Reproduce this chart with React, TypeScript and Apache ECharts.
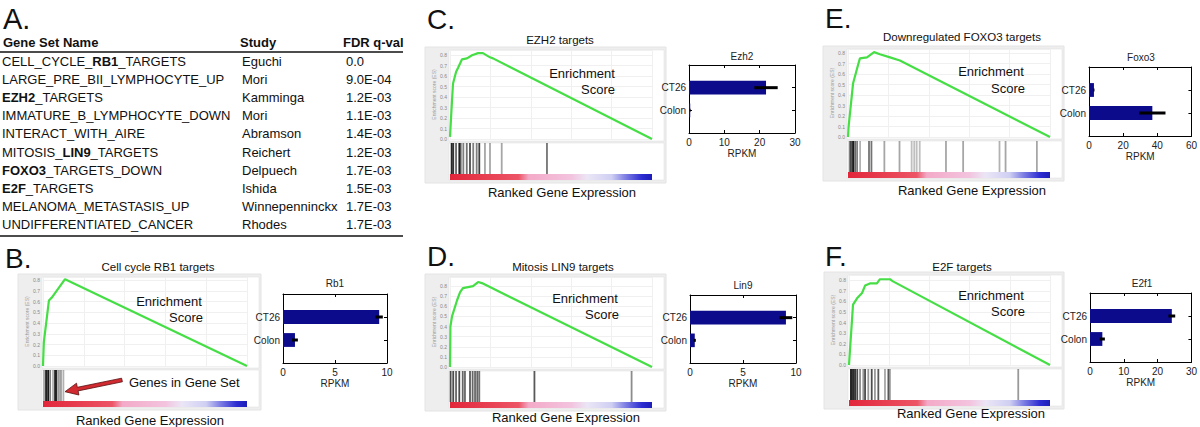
import React, { useEffect, useRef } from "react";
import * as echarts from "echarts";

// ---------- Panel A table ----------
const tableHeaders = ["Gene Set Name", "Study", "FDR q-val"];
const geneSetNames = [
  "CELL_CYCLE_RB1_TARGETS",
  "LARGE_PRE_BII_LYMPHOCYTE_UP",
  "EZH2_TARGETS",
  "IMMATURE_B_LYMPHOCYTE_DOWN",
  "INTERACT_WITH_AIRE",
  "MITOSIS_LIN9_TARGETS",
  "FOXO3_TARGETS_DOWN",
  "E2F_TARGETS",
  "MELANOMA_METASTASIS_UP",
  "UNDIFFERENTIATED_CANCER",
];
const boldParts = ["RB1", "", "EZH2", "", "", "LIN9", "FOXO3", "E2F", "", ""];
const studies = ["Eguchi", "Mori", "Kamminga", "Mori", "Abramson", "Reichert", "Delpuech", "Ishida", "Winnepenninckx", "Rhodes"];
const fdrValues = ["0.0", "9.0E-04", "1.2E-03", "1.1E-03", "1.4E-03", "1.2E-03", "1.7E-03", "1.5E-03", "1.7E-03", "1.7E-03"];

// ---------- GSEA running enrichment scores ([rank %, ES]) ----------
const esB = [[0, 0], [0.4, 0.22], [2.9, 0.61], [4.4, 0.64], [10.8, 0.81], [100, 0]];
const esC = [[0, 0.02], [1.0, 0.37], [1.5, 0.53], [3.0, 0.64], [4.0, 0.68], [5.9, 0.76], [8.4, 0.77], [10.9, 0.8], [13.9, 0.82], [16.3, 0.82], [19.8, 0.78], [21.3, 0.77], [100, 0]];
const esD = [[0, 0], [0.2, 0.4], [1.0, 0.5], [3.5, 0.66], [5.0, 0.74], [6.4, 0.78], [8.9, 0.79], [11.4, 0.8], [13.9, 0.84], [15.8, 0.83], [100, 0]];
const esE = [[0, 0], [0.3, 0.1], [2.5, 0.51], [5.0, 0.69], [5.9, 0.75], [9.4, 0.76], [12.9, 0.81], [15.8, 0.79], [20.8, 0.76], [25.7, 0.73], [100, 0]];
const esF = [[0, 0], [2.0, 0.57], [4.0, 0.63], [6.5, 0.68], [8.0, 0.75], [10.4, 0.77], [13.9, 0.77], [15.4, 0.81], [20.4, 0.81], [21.9, 0.79], [100, 0]];

// ---------- Gene set hits ([rank %, darkness]) ----------
const hitsB = [[0.5, 0.35], [1.5, 0.9], [2.5, 0.9], [3.5, 0.5], [4.9, 0.3], [5.9, 0.85], [6.6, 0.85], [7.8, 0.4], [8.8, 0.4], [10.0, 0.3]];
const hitsC = [[0.8, 0.85], [1.6, 0.8], [3.0, 0.6], [4.6, 0.85], [5.3, 0.6], [6.6, 0.5], [8.3, 0.55], [9.9, 0.7], [11.5, 0.5], [13.2, 0.5], [14.5, 0.75], [17.3, 0.35], [19.8, 0.35], [25.6, 0.35], [48.0, 0.55]];
const hitsD = [[0.3, 0.7], [1.6, 0.7], [3.0, 0.6], [4.6, 0.7], [6.3, 0.6], [7.4, 0.6], [9.9, 0.65], [11.2, 0.6], [12.4, 0.6], [13.5, 0.6], [14.5, 0.55], [41.8, 0.65], [89.9, 0.45]];
const hitsE = [[0.8, 0.5], [1.5, 0.7], [2.5, 0.95], [3.5, 0.6], [4.5, 0.5], [6.0, 0.3], [10.4, 0.55], [11.6, 0.55], [18.0, 0.35], [25.5, 0.35], [31.5, 0.25], [32.8, 0.25], [34.0, 0.25], [35.5, 0.25], [48.5, 0.35], [57.0, 0.35], [75.0, 0.3], [78.0, 0.35], [93.5, 0.35]];
const hitsF = [[1.0, 0.95], [2.0, 0.9], [3.0, 0.85], [4.1, 0.7], [5.5, 0.45], [7.1, 0.4], [8.0, 0.7], [9.6, 0.4], [11.3, 0.7], [12.9, 0.4], [14.6, 0.65], [17.9, 0.35], [19.6, 0.65], [20.4, 0.35], [84.2, 0.4]];

// ---------- RPKM bar charts ----------
const barCategories = ["CT26", "Colon"];
const rb1Values = [9.25, 1.15];
const rb1Errors = [0.35, 0.28];
const ezh2Values = [21.8, 0.35];
const ezh2Errors = [3.3, 0.1];
const lin9Values = [9.05, 0.45];
const lin9Errors = [0.6, 0.1];
const foxo3Values = [2.9, 37.1];
const foxo3Errors = [0.3, 7.7];
const e2f1Values = [24.2, 3.65];
const e2f1Errors = [1.0, 0.75];

const FONT = "'Liberation Sans', Arial, Helvetica, sans-serif";

const gseaPanels = [
  { letter: "B.", lx: 5, ly: 258, title: "Cell cycle RB1 targets", tx: 158, ty: 267, xs: 43, xe: 247, top: 277, y0: 366, ymax: 0.83, es: esB, hits: hitsB, enr: [169, 301], score: [203, 317], ranked: [150, 420] },
  { letter: "C.", lx: 427, ly: 19, title: "EZH2 targets", tx: 560, ty: 40, xs: 450, xe: 652, top: 50, y0: 139, ymax: 0.85, es: esC, hits: hitsC, enr: [582, 73], score: [615, 89], ranked: [562, 192] },
  { letter: "D.", lx: 427, ly: 256, title: "Mitosis LIN9 targets", tx: 563, ty: 267, xs: 450, xe: 652, top: 277, y0: 367, ymax: 0.89, es: esD, hits: hitsD, enr: [585, 298], score: [619, 314], ranked: [566, 417] },
  { letter: "E.", lx: 825, ly: 18, title: "Downregulated FOXO3 targets", tx: 962, ty: 37, xs: 848, xe: 1050, top: 49, y0: 137, ymax: 0.84, es: esE, hits: hitsE, enr: [991, 71], score: [1025, 88], ranked: [972, 190] },
  { letter: "F.", lx: 825, ly: 256, title: "E2F targets", tx: 962, ty: 267, xs: 849, xe: 1050, top: 275, y0: 365, ymax: 0.85, es: esF, hits: hitsF, enr: [991, 295], score: [1025, 311], ranked: [971, 413] },
];

const barPanels = [
  { title: "Rb1", x0: 283, x1: 387, y0: 294, y1: 363, ty: 283, max: 10, step: 5, values: rb1Values, errors: rb1Errors },
  { title: "Ezh2", x0: 689, x1: 795, y0: 65, y1: 133, ty: 56, max: 30, step: 10, values: ezh2Values, errors: ezh2Errors },
  { title: "Lin9", x0: 690, x1: 796, y0: 295, y1: 363, ty: 285, max: 10, step: 5, values: lin9Values, errors: lin9Errors },
  { title: "Foxo3", x0: 1089, x1: 1193, y0: 67, y1: 136, ty: 57, max: 60, step: 20, values: foxo3Values, errors: foxo3Errors },
  { title: "E2f1", x0: 1090, x1: 1194, y0: 293, y1: 362, ty: 283, max: 30, step: 10, values: e2f1Values, errors: e2f1Errors },
];

function txt(text: string, x: number, y: number, size: number, opts: any = {}) {
  return {
    type: "text",
    x,
    y,
    z: 100,
    style: {
      text,
      fontSize: size,
      fontFamily: FONT,
      fill: opts.fill || "#111",
      fontWeight: opts.bold ? "bold" : "normal",
      align: opts.align || "left",
      verticalAlign: "middle",
      rich: opts.rich,
    },
  };
}

function buildOption() {
  const grid: any[] = [];
  const xAxis: any[] = [];
  const yAxis: any[] = [];
  const series: any[] = [];
  const graphic: any[] = [];

  // ---- Panel A ----
  graphic.push(txt("A.", 3, 19, 29));
  graphic.push(txt(tableHeaders[0], 3, 42, 13, { bold: true }));
  graphic.push(txt(tableHeaders[1], 240, 42, 13, { bold: true }));
  graphic.push(txt(tableHeaders[2], 343, 42, 13, { bold: true }));
  graphic.push({ type: "line", z: 100, shape: { x1: 0, y1: 52, x2: 403, y2: 52 }, style: { stroke: "#111", lineWidth: 1.6 } });
  graphic.push({ type: "line", z: 100, shape: { x1: 0, y1: 236, x2: 403, y2: 236 }, style: { stroke: "#111", lineWidth: 1.6 } });
  geneSetNames.forEach((name, i) => {
    const y = 61.5 + i * 18.1;
    const bp = boldParts[i];
    let t = name;
    if (bp) {
      const idx = name.indexOf(bp);
      const pre = name.slice(0, idx);
      const post = name.slice(idx + bp.length);
      t = (pre ? "{n|" + pre + "}" : "") + "{b|" + bp + "}" + (post ? "{n|" + post + "}" : "");
    }
    graphic.push(
      txt(t, 2, y, 13, {
        rich: bp
          ? {
              n: { fontSize: 13, fontFamily: FONT, fill: "#111" },
              b: { fontSize: 13, fontFamily: FONT, fill: "#111", fontWeight: "bold" },
            }
          : undefined,
      })
    );
    graphic.push(txt(studies[i], 242, y, 13));
    graphic.push(txt(fdrValues[i], 346, y, 13));
  });

  // ---- GSEA panels ----
  const gradient = new echarts.graphic.LinearGradient(0, 0, 1, 0, [
    { offset: 0, color: "#e2263a" },
    { offset: 0.34, color: "#ec5566" },
    { offset: 0.39, color: "#f3aac8" },
    { offset: 0.6, color: "#f3c3de" },
    { offset: 0.68, color: "#ebe6f6" },
    { offset: 0.8, color: "#cfcff3" },
    { offset: 0.87, color: "#7d7de4" },
    { offset: 0.95, color: "#2c2cd2" },
    { offset: 1, color: "#1d1db8" },
  ]);

  gseaPanels.forEach((p, i) => {
    // backgrounds
    graphic.push({ type: "rect", z: -10, shape: { x: p.xs - 25, y: p.top - 3, width: p.xe + 14 - (p.xs - 25), height: p.y0 + 44 - (p.top - 3) }, style: { fill: "#eeeeee", stroke: "#e4e4e4", lineWidth: 1 } });
    graphic.push({ type: "rect", z: -9, shape: { x: p.xs - 1, y: p.top, width: p.xe + 12 - (p.xs - 1), height: p.y0 + 2 - p.top }, style: { fill: "#ffffff", stroke: "#dcdcdc", lineWidth: 0.5 } });
    graphic.push({ type: "rect", z: -9, shape: { x: p.xs - 1, y: p.y0 + 4, width: p.xe + 12 - (p.xs - 1), height: 37 }, style: { fill: "#ffffff", stroke: "#dcdcdc", lineWidth: 0.5 } });
    graphic.push({ type: "rect", z: 50, shape: { x: p.xs, y: p.y0 + 35, width: p.xe - p.xs, height: 6 }, style: { fill: gradient } });
    // texts
    graphic.push(txt(p.letter, p.lx, p.ly, 28));
    graphic.push(txt(p.title, p.tx, p.ty, 11.5, { align: "center" }));
    graphic.push(txt("Enrichment", p.enr[0], p.enr[1], 13, { align: "center" }));
    graphic.push(txt("Score", p.score[0], p.score[1], 13, { align: "right" }));
    graphic.push(txt("Ranked Gene Expression", p.ranked[0], p.ranked[1], 13, { align: "center" }));

    grid.push({ left: p.xs, top: p.top, width: p.xe - p.xs, height: p.y0 - p.top });
    xAxis.push({
      gridIndex: i, type: "value", min: 0, max: 100, interval: 20,
      axisLine: { show: false }, axisTick: { show: false }, axisLabel: { show: false },
      splitLine: { show: true, lineStyle: { color: "#f0f0f0", width: 1 } },
    });
    yAxis.push({
      gridIndex: i, type: "value", min: 0, max: p.ymax, interval: 0.1,
      axisLine: { show: false }, axisTick: { show: false },
      axisLabel: {
        fontSize: 5, color: "#888", margin: 3, fontFamily: FONT,
        formatter: (v: number) => (v <= 0.8001 && Math.abs(v * 10 - Math.round(v * 10)) < 1e-6 ? v.toFixed(1) : ""),
      },
      splitLine: { show: true, lineStyle: { color: "#f0f0f0", width: 1 } },
      name: "Enrichment score (ES)", nameLocation: "middle", nameGap: 14,
      nameTextStyle: { fontSize: 5, color: "#999", fontFamily: FONT },
    });
    series.push({
      type: "line", xAxisIndex: i, yAxisIndex: i, data: p.es, symbol: "none", showSymbol: false,
      lineStyle: { color: "#45de45", width: 2.2 }, z: 5,
    });
  });

  // hits grids
  gseaPanels.forEach((p, i) => {
    const gi = 5 + i;
    grid.push({ left: p.xs, top: p.y0 + 4, width: p.xe - p.xs, height: 31 });
    xAxis.push({ gridIndex: gi, type: "value", min: 0, max: 100, show: false });
    yAxis.push({ gridIndex: gi, type: "value", min: 0, max: 1, show: false });
    series.push({
      type: "custom", xAxisIndex: gi, yAxisIndex: gi, data: p.hits, z: 4,
      renderItem: (params: any, api: any) => {
        const b = api.coord([api.value(0), 0]);
        const t = api.coord([api.value(0), 1]);
        return {
          type: "rect",
          shape: { x: b[0] - 0.9, y: t[1], width: 1.8, height: b[1] - t[1] },
          style: { fill: "rgba(0,0,0," + api.value(1) + ")" },
        };
      },
    });
  });

  // arrow in B
  graphic.push({
    type: "polygon", z: 110,
    shape: { points: [[121.6, 378.2], [77.3, 387.3], [76.5, 383.2], [65, 391.7], [78.9, 395.0], [78.1, 390.9], [122.4, 381.8]] },
    style: { fill: "#d12a30", stroke: "#5a1212", lineWidth: 0.8 },
  });
  graphic.push(txt("Genes in Gene Set", 129, 382, 13));

  // bar charts
  const axLine = { show: true, onZero: false, lineStyle: { color: "#000", width: 1 } };
  const axTick = { show: true, inside: true, length: 3, lineStyle: { color: "#000", width: 1 } };
  barPanels.forEach((b, i) => {
    const gi = 10 + i;
    grid.push({ left: b.x0, top: b.y0, width: b.x1 - b.x0, height: b.y1 - b.y0 });
    const xi = xAxis.length;
    xAxis.push({
      gridIndex: gi, type: "value", position: "bottom", min: 0, max: b.max, interval: b.step,
      axisLine: axLine, axisTick: axTick, splitLine: { show: false },
      axisLabel: { fontSize: 10, color: "#222", margin: 4, fontFamily: FONT },
      name: "RPKM", nameLocation: "middle", nameGap: 15,
      nameTextStyle: { fontSize: 10, color: "#222", fontFamily: FONT },
    });
    xAxis.push({
      gridIndex: gi, type: "value", position: "top", min: 0, max: b.max, interval: b.step,
      axisLine: axLine, axisTick: axTick, splitLine: { show: false }, axisLabel: { show: false },
    });
    const yi = yAxis.length;
    yAxis.push({
      gridIndex: gi, type: "value", position: "left", inverse: true, min: 0, max: 3, interval: 1,
      axisLine: axLine, axisTick: axTick, splitLine: { show: false },
      axisLabel: {
        fontSize: 10, color: "#222", margin: 3, fontFamily: FONT,
        formatter: (v: number) => barCategories[Math.round(v) - 1] || "",
      },
    });
    yAxis.push({
      gridIndex: gi, type: "value", position: "right", inverse: true, min: 0, max: 3, interval: 1,
      axisLine: axLine, axisTick: axTick, splitLine: { show: false }, axisLabel: { show: false },
    });
    series.push({
      type: "custom", xAxisIndex: xi, yAxisIndex: yi, z: 3,
      data: b.values.map((v, k) => [v, k + 1, b.errors[k]]),
      renderItem: (params: any, api: any) => {
        const v = api.value(0);
        const c = api.value(1);
        const e = api.value(2);
        const p0 = api.coord([0, c - 0.3]);
        const p1 = api.coord([v, c + 0.3]);
        const el = api.coord([v - e, c]);
        const er = api.coord([v + e, c]);
        return {
          type: "group",
          children: [
            { type: "rect", shape: { x: p0[0], y: Math.min(p0[1], p1[1]), width: p1[0] - p0[0], height: Math.abs(p1[1] - p0[1]) }, style: { fill: "#0b0b8c" } },
            { type: "line", shape: { x1: el[0], y1: el[1], x2: er[0], y2: er[1] }, style: { stroke: "#000", lineWidth: 3 } },
          ],
        };
      },
    });
    graphic.push(txt(b.title, (b.x0 + b.x1) / 2, b.ty, 10, { align: "center", fill: "#222" }));
  });

  return {
    animation: false,
    backgroundColor: "#ffffff",
    textStyle: { fontFamily: FONT },
    grid,
    xAxis,
    yAxis,
    series,
    graphic: { elements: graphic },
  };
}

export default function App() {
  const ref = useRef<HTMLDivElement>(null);
  useEffect(() => {
    const chart = echarts.init(ref.current as HTMLDivElement, undefined, { renderer: "svg" });
    chart.setOption(buildOption() as any);
    return () => chart.dispose();
  }, []);
  return <div ref={ref} style={{ position: "absolute", left: 0, top: 0, width: 1200, height: 427, background: "#fff" }} />;
}
